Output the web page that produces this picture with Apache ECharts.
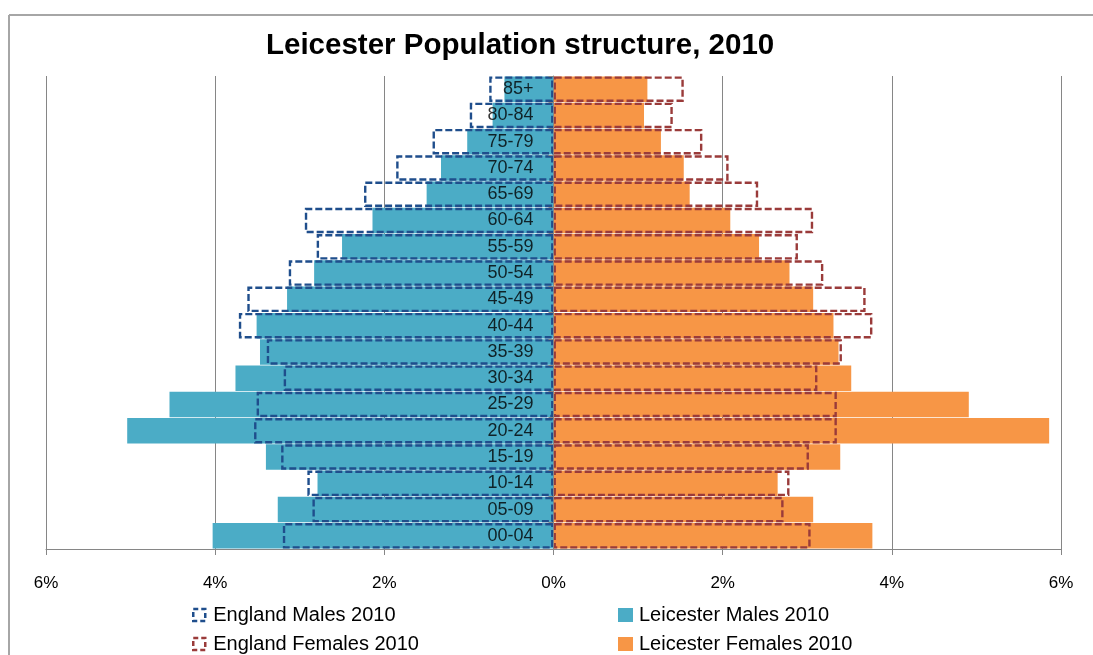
<!DOCTYPE html>
<html>
<head>
<meta charset="utf-8">
<script src="https://cdn.jsdelivr.net/npm/echarts@6/dist/echarts.min.js"></script>
<style>
html,body{margin:0;padding:0;background:#fff;}
#chart{width:1093px;height:655px;}
</style>
</head>
<body>
<div id="chart"></div>
<script>
// Age bands, bottom to top
var categories = ['00-04','05-09','10-14','15-19','20-24','25-29','30-34','35-39','40-44','45-49','50-54','55-59','60-64','65-69','70-74','75-79','80-84','85+'];
// Percent of population
var leicesterMales   = [4.03, 3.26, 2.79, 3.40, 5.04, 4.54, 3.76, 3.47, 3.51, 3.15, 2.83, 2.50, 2.14, 1.50, 1.33, 1.02, 0.72, 0.58];
var englandMales     = [3.20, 2.85, 2.91, 3.22, 3.54, 3.51, 3.19, 3.39, 3.72, 3.62, 3.13, 2.80, 2.94, 2.24, 1.86, 1.43, 0.99, 0.76];
var leicesterFemales = [3.77, 3.07, 2.65, 3.39, 5.86, 4.91, 3.52, 3.37, 3.31, 3.07, 2.79, 2.43, 2.09, 1.61, 1.54, 1.27, 1.07, 1.11];
var englandFemales   = [3.04, 2.72, 2.79, 3.02, 3.35, 3.35, 3.12, 3.41, 3.77, 3.69, 3.19, 2.89, 3.07, 2.42, 2.07, 1.76, 1.41, 1.54];

var neg = function (a) { return a.map(function (v) { return -v; }); };
var FONT = '"Liberation Sans", Arial, sans-serif';

var EM_COLOR = '#1F4E8C', EF_COLOR = '#9A3B3A', LM_COLOR = '#4BACC6', LF_COLOR = '#F79646';

var chart = echarts.init(document.getElementById('chart'), null, {renderer: 'canvas'});
chart.setOption({
  animation: false,
  backgroundColor: '#ffffff',
  textStyle: {fontFamily: FONT},
  title: {
    text: 'Leicester Population structure, 2010',
    left: 266,
    top: 31,
    padding: 0,
    textStyle: {fontFamily: FONT, fontWeight: 'bold', fontSize: 29.5, color: '#000'}
  },
  graphic: [
    {type: 'line', shape: {x1: 9, y1: 15, x2: 1093, y2: 15}, style: {stroke: '#a6a6a6', lineWidth: 2}, silent: true},
    {type: 'line', shape: {x1: 9, y1: 15, x2: 9, y2: 655}, style: {stroke: '#a6a6a6', lineWidth: 2}, silent: true}
  ],
  legend: [
    {
      data: [
        {name: 'England Males 2010', icon: 'rect', itemStyle: {color: 'rgba(0,0,0,0)', borderColor: EM_COLOR, borderWidth: 2.5, borderType: [5, 3]}},
        {name: 'England Females 2010', icon: 'rect', itemStyle: {color: 'rgba(0,0,0,0)', borderColor: EF_COLOR, borderWidth: 2.5, borderType: [5, 3]}}
      ],
      orient: 'vertical', left: 192, top: 605, padding: 0,
      itemWidth: 12, itemHeight: 12, itemGap: 9,
      textStyle: {fontFamily: FONT, fontSize: 20, lineHeight: 20, color: '#000', padding: [0, 0, 0, 3]},
      selectedMode: false
    },
    {
      data: [
        {name: 'Leicester Males 2010', icon: 'rect'},
        {name: 'Leicester Females 2010', icon: 'rect'}
      ],
      orient: 'vertical', left: 618, top: 605, padding: 0,
      itemWidth: 15, itemHeight: 14, itemGap: 9,
      textStyle: {fontFamily: FONT, fontSize: 20, lineHeight: 20, color: '#000', padding: [0, 0, 0, 1]},
      selectedMode: false
    }
  ],
  grid: {left: 46, right: 32, top: 76, bottom: 106, containLabel: false, outerBoundsMode: 'none'},
  xAxis: {
    type: 'value',
    min: -6, max: 6, interval: 2,
    axisLine: {show: true, lineStyle: {color: '#868686', width: 1}},
    axisTick: {show: true, length: 6, lineStyle: {color: '#868686'}},
    splitLine: {show: true, lineStyle: {color: '#868686', width: 1}},
    axisLabel: {
      margin: 26, fontSize: 17, color: '#000', fontFamily: FONT,
      formatter: function (v) { return Math.abs(v) + '%'; }
    }
  },
  yAxis: {
    type: 'category',
    data: categories,
    z: 10,
    axisLine: {show: true, onZero: true, lineStyle: {color: '#868686', width: 1}},
    axisTick: {show: true, length: 5, lineStyle: {color: '#868686'}},
    axisLabel: {show: false}
  },
  series: [
    {
      name: 'Leicester Males 2010', type: 'bar', data: neg(leicesterMales),
      barGap: '-100%', barCategoryGap: '3%',
      itemStyle: {color: LM_COLOR}
    },
    {
      name: 'Leicester Females 2010', type: 'bar', data: leicesterFemales,
      barGap: '-100%', barCategoryGap: '3%',
      itemStyle: {color: LF_COLOR}
    },
    {
      name: 'England Males 2010', type: 'bar', data: neg(englandMales),
      barGap: '-100%', barCategoryGap: '3%', z: 3,
      itemStyle: {color: 'rgba(0,0,0,0)', borderColor: EM_COLOR, borderWidth: 2.4, borderType: [7, 3]}
    },
    {
      name: 'England Females 2010', type: 'bar', data: englandFemales,
      barGap: '-100%', barCategoryGap: '3%', z: 3,
      itemStyle: {color: 'rgba(0,0,0,0)', borderColor: EF_COLOR, borderWidth: 2.4, borderType: [7, 3]}
    },
    {
      // category labels drawn at the zero line
      name: 'labels', type: 'scatter', z: 20, silent: true,
      symbolSize: 0,
      data: categories.map(function (c) { return [0, c]; }),
      label: {
        show: true, position: 'left', distance: 20,
        fontFamily: FONT, fontSize: 18, color: '#000',
        formatter: function (p) { return p.value[1]; }
      }
    }
  ]
});
</script>
</body>
</html>
